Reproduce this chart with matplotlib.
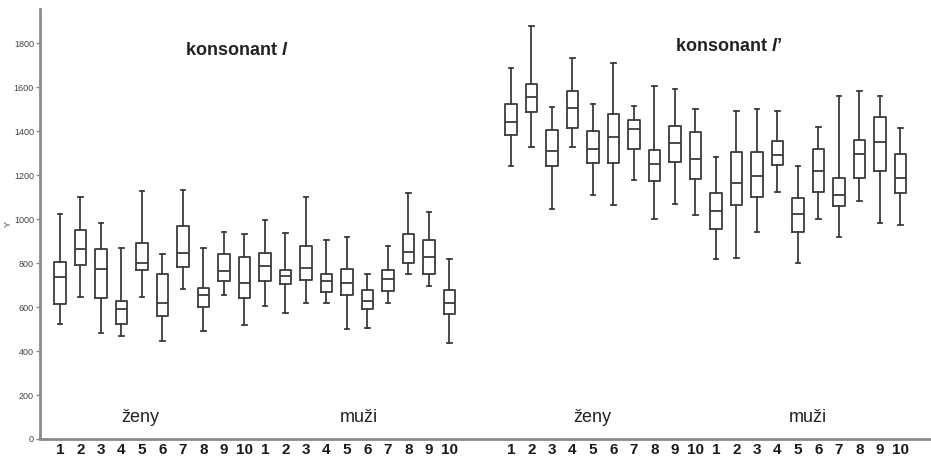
import matplotlib
matplotlib.use("Agg")
import matplotlib.pyplot as plt

plt.rcParams['font.family'] = ['Liberation Sans', 'DejaVu Sans']
plt.rcParams['mathtext.fontset'] = 'custom'
plt.rcParams['mathtext.it'] = 'Liberation Sans:italic:bold'
plt.rcParams['mathtext.rm'] = 'Liberation Sans:bold'

# ---- data: five-number summaries (whisker low, Q1, median, Q3, whisker high) ----
speakers = ["1", "2", "3", "4", "5", "6", "7", "8", "9", "10"]
groups = ["ženy", "muži"]

# konsonant l — ženy (women)
l_zeny_low = [523, 647, 483, 468, 645, 444, 680, 491, 654, 517]
l_zeny_q1 = [613, 789, 639, 521, 768, 559, 782, 598, 717, 639]
l_zeny_med = [735, 862, 774, 591, 798, 617, 847, 656, 765, 711]
l_zeny_q3 = [804, 950, 862, 629, 891, 748, 967, 688, 841, 826]
l_zeny_high = [1021, 1098, 983, 867, 1127, 839, 1132, 867, 941, 932]

# konsonant l — muži (men)
l_muzi_low = [603, 573, 620, 618, 500, 503, 620, 750, 695, 438]
l_muzi_q1 = [720, 703, 723, 670, 653, 589, 671, 801, 748, 570]
l_muzi_med = [785, 742, 779, 718, 711, 629, 727, 851, 829, 618]
l_muzi_q3 = [847, 770, 879, 751, 774, 679, 768, 930, 903, 677]
l_muzi_high = [994, 938, 1100, 903, 920, 751, 879, 1120, 1030, 818]

# konsonant l' — ženy (women)
lj_zeny_low = [1242, 1329, 1045, 1329, 1109, 1064, 1177, 998, 1067, 1018]
lj_zeny_q1 = [1380, 1485, 1242, 1415, 1254, 1253, 1319, 1173, 1259, 1182]
lj_zeny_med = [1442, 1556, 1308, 1503, 1319, 1374, 1410, 1251, 1345, 1271]
lj_zeny_q3 = [1523, 1614, 1404, 1580, 1401, 1477, 1450, 1313, 1424, 1395]
lj_zeny_high = [1686, 1878, 1508, 1730, 1524, 1707, 1513, 1604, 1589, 1500]

# konsonant l' — muži (men)
lj_muzi_low = [820, 824, 942, 1121, 798, 1001, 917, 1082, 983, 973]
lj_muzi_q1 = [953, 1062, 1100, 1247, 941, 1124, 1058, 1185, 1217, 1117]
lj_muzi_med = [1038, 1162, 1195, 1292, 1024, 1218, 1109, 1294, 1348, 1185]
lj_muzi_q3 = [1120, 1303, 1306, 1356, 1094, 1318, 1188, 1359, 1462, 1294]
lj_muzi_high = [1280, 1491, 1500, 1491, 1242, 1417, 1560, 1582, 1559, 1413]

panels = [
    (l_zeny_low, l_zeny_q1, l_zeny_med, l_zeny_q3, l_zeny_high),
    (l_muzi_low, l_muzi_q1, l_muzi_med, l_muzi_q3, l_muzi_high),
    (lj_zeny_low, lj_zeny_q1, lj_zeny_med, lj_zeny_q3, lj_zeny_high),
    (lj_muzi_low, lj_muzi_q1, lj_muzi_med, lj_muzi_q3, lj_muzi_high),
]

stats = []
positions = []
labels = []
offsets = []
for k, (lo, q1, med, q3, hi) in enumerate(panels):
    offset = k * 10 + (2 if k >= 2 else 0)
    offsets.append(offset)
    for i in range(10):
        stats.append(dict(whislo=lo[i], q1=q1[i], med=med[i], q3=q3[i],
                          whishi=hi[i], fliers=[]))
        positions.append(offset + i)
        labels.append(speakers[i])

fig = plt.figure(figsize=(9.31, 4.62), dpi=100)
ax = fig.add_axes([39.5 / 931, 23 / 462, 1 - 39.5 / 931, 430.3 / 462])

lc = '#3c3c3c'
lw = 1.3
ax.bxp(stats, positions=positions, widths=0.56, capwidths=0.22,
       showfliers=False, patch_artist=False,
       boxprops=dict(color=lc, linewidth=lw),
       whiskerprops=dict(color=lc, linewidth=lw),
       capprops=dict(color=lc, linewidth=lw),
       medianprops=dict(color=lc, linewidth=lw))

ax.set_xlim(-1, 42.5)
ax.set_ylim(0, 1956)

for s in ['top', 'right']:
    ax.spines[s].set_visible(False)
for s in ['left', 'bottom']:
    ax.spines[s].set_color('#8a8a8a')
    ax.spines[s].set_linewidth(2)

ax.set_yticks([0, 200, 400, 600, 800, 1000, 1200, 1400, 1600, 1800])
ax.tick_params(axis='y', labelsize=6.5, labelcolor='#444444', color='#8a8a8a',
               length=3, width=1, pad=1)
ax.set_xticks(positions)
ax.set_xticklabels(labels, fontsize=11, fontweight='bold', color='#1a1a1a')
ax.tick_params(axis='x', length=0, pad=3)
ax.set_ylabel('Y', fontsize=6.5, color='#444444', labelpad=1)

# group labels
label_shift = [3.9, 4.6, 3.95, 4.5]
for k, name in enumerate(groups * 2):
    ax.text(offsets[k] + label_shift[k], 100, name, ha='center', va='center',
            fontsize=13, color='#222222')

ax.text(8.6, 1768, r'konsonant $\mathit{l}$', ha='center', va='center',
        fontsize=13, fontweight='bold', color='#222222')
ax.text(32.6, 1783, "konsonant $\\mathit{l}$\u2019", ha='center', va='center',
        fontsize=13, fontweight='bold', color='#222222')

fig.savefig('out.png', dpi=100)
